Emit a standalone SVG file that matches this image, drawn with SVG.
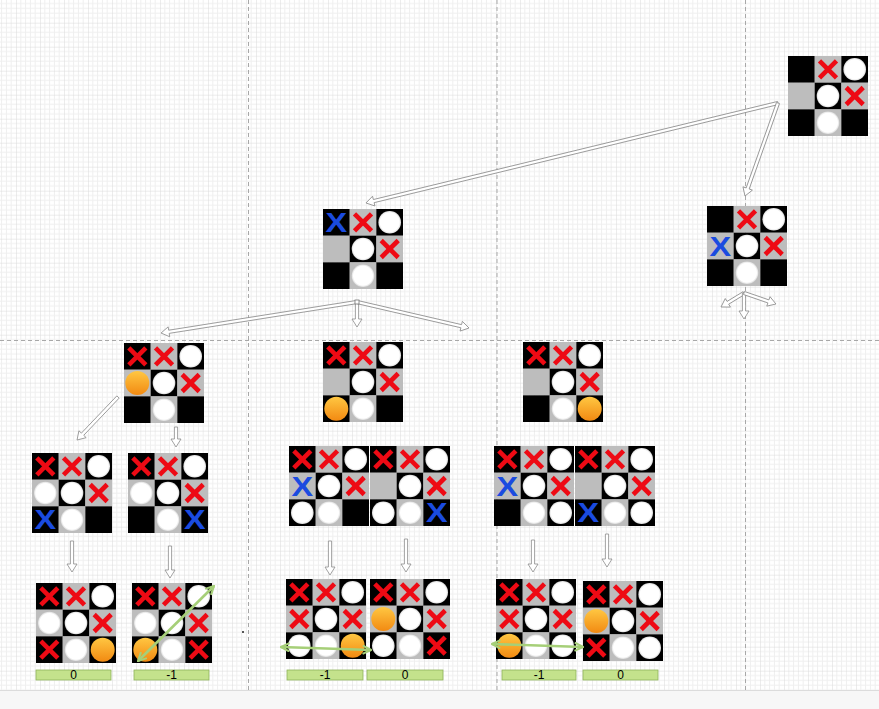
<svg xmlns="http://www.w3.org/2000/svg" xmlns:xlink="http://www.w3.org/1999/xlink" width="879" height="709" viewBox="0 0 879 709">
<style>
.ha{fill:#fff;stroke:#8c8c8c;stroke-width:0.8;stroke-linejoin:miter}
.bx{font-family:"Liberation Sans",Arial,sans-serif;font-weight:bold;font-size:27px;fill:#1a4be0;text-anchor:middle}
.gl{stroke:#a6cf78;stroke-width:2.6;fill:none;marker-start:url(#ga);marker-end:url(#ga)}
.lb{fill:#c4e28c;stroke:#8fb35a;stroke-width:0.8}
.lt{font-family:"Liberation Sans",Arial,sans-serif;font-size:12px;fill:#000;text-anchor:middle}
.pb{stroke:#a8a8a8;stroke-width:1;stroke-dasharray:4,3;fill:none}
</style>
<defs>
<pattern id="grid" patternUnits="userSpaceOnUse" x="16" y="22.7" width="24" height="24">
<path d="M4.8,0V24M9.6,0V24M14.4,0V24M19.2,0V24M0,4.8H24M0,9.6H24M0,14.4H24M0,19.2H24" stroke="#efefef" stroke-width="1" fill="none"/>
<path d="M0,0V24M0,0H24" stroke="#dadada" stroke-width="1" fill="none"/>
</pattern>
<radialGradient id="wg" cx="50%" cy="50%" r="50%">
<stop offset="0.84" stop-color="#ffffff"/>
<stop offset="1" stop-color="#dcdcdc"/>
</radialGradient>
<linearGradient id="og" x1="0" y1="0" x2="0" y2="1">
<stop offset="0" stop-color="#ffc742"/>
<stop offset="1" stop-color="#f28a12"/>
</linearGradient>
<marker id="ga" viewBox="0 0 10 10" refX="9" refY="5" markerWidth="4" markerHeight="4" orient="auto-start-reverse">
<path d="M1,1 L9,5 L1,9" fill="none" stroke="#a6cf78" stroke-width="2"/>
</marker>
<g id="bd">
<rect x="0" y="0" width="26.8" height="26.8" fill="#000"/>
<rect x="26.67" y="0" width="26.8" height="26.8" fill="#bdbdbd"/>
<rect x="53.33" y="0" width="26.67" height="26.8" fill="#000"/>
<rect x="0" y="26.67" width="26.8" height="26.8" fill="#bdbdbd"/>
<rect x="26.67" y="26.67" width="26.8" height="26.8" fill="#000"/>
<rect x="53.33" y="26.67" width="26.67" height="26.8" fill="#bdbdbd"/>
<rect x="0" y="53.33" width="26.8" height="26.67" fill="#000"/>
<rect x="26.67" y="53.33" width="26.8" height="26.67" fill="#bdbdbd"/>
<rect x="53.33" y="53.33" width="26.67" height="26.67" fill="#000"/>
</g>
<g id="rx" stroke="#ee0a14" stroke-width="4.6">
<line x1="-8.5" y1="-8.5" x2="8.5" y2="8.5"/>
<line x1="-8.5" y1="8.5" x2="8.5" y2="-8.5"/>
</g>
<circle id="wo" r="11.3" fill="url(#wg)"/>
<circle id="oo" r="12" fill="url(#og)"/>
</defs>

<rect x="0" y="0" width="879" height="709" fill="#ffffff"/>
<rect x="0" y="0" width="879" height="690" fill="url(#grid)"/>
<g id="pagebreaks">
<path class="pb" d="M248.5,0V690M497,0V690M745.5,0V690M0,340.5H879"/>
</g>
<rect x="0" y="690" width="879" height="19" fill="#f7f7f7"/>
<line x1="0" y1="690.5" x2="879" y2="690.5" stroke="#dcdcdc"/>

<g id="connectors">
<path class="ha" transform="translate(778,103) rotate(166.36)" d="M0,-1.6H416V-5L424,0L416,5V1.6H0Z"/>
<path class="ha" transform="translate(778,103) rotate(109.54)" d="M0,-1.6H90.7V-5L98.7,0L90.7,5V1.6H0Z"/>
<path class="ha" transform="translate(744,293) rotate(148.7)" d="M0,-1.6H18.9V-5L26.9,0L18.9,5V1.6H0Z"/>
<path class="ha" transform="translate(744,293) rotate(90)" d="M0,-1.6H18V-5L26,0L18,5V1.6H0Z"/>
<path class="ha" transform="translate(744,293) rotate(19)" d="M0,-1.6H25.8V-5L33.8,0L25.8,5V1.6H0Z"/>
<path class="ha" transform="translate(357,302) rotate(171)" d="M0,-1.6H190.4V-5L198.4,0L190.4,5V1.6H0Z"/>
<path class="ha" transform="translate(357,302) rotate(90)" d="M0,-1.6H17V-5L25,0L17,5V1.6H0Z"/>
<path class="ha" transform="translate(357,302) rotate(13.07)" d="M0,-1.6H107V-5L115,0L107,5V1.6H0Z"/>
<rect x="355" y="300" width="4" height="4" fill="#fff" stroke="#777" stroke-width="0.8"/>
<path class="ha" transform="translate(118,397) rotate(133.6)" d="M0,-1.6H51.4V-5L59.4,0L51.4,5V1.6H0Z"/>
<path class="ha" transform="translate(176,427) rotate(90)" d="M0,-1.6H12V-5L20,0L12,5V1.6H0Z"/>
<path class="ha" transform="translate(72,541) rotate(90)" d="M0,-1.6H23V-5L31,0L23,5V1.6H0Z"/>
<path class="ha" transform="translate(170,546) rotate(90)" d="M0,-1.6H24V-5L32,0L24,5V1.6H0Z"/>
<path class="ha" transform="translate(330,541) rotate(90)" d="M0,-1.6H26V-5L34,0L26,5V1.6H0Z"/>
<path class="ha" transform="translate(406,539) rotate(90)" d="M0,-1.6H25V-5L33,0L25,5V1.6H0Z"/>
<path class="ha" transform="translate(533,540) rotate(90)" d="M0,-1.6H24V-5L32,0L24,5V1.6H0Z"/>
<path class="ha" transform="translate(607,534) rotate(90)" d="M0,-1.6H25V-5L33,0L25,5V1.6H0Z"/>
</g>

<g id="root">
<use href="#bd" x="788" y="56"/>
<use href="#rx" x="828" y="69.3"/><use href="#wo" x="854.7" y="69.3"/>
<use href="#wo" x="828" y="96"/><use href="#rx" x="854.7" y="96"/>
<use href="#wo" x="828" y="122.7"/>
</g>

<g id="boardA">
<use href="#bd" x="323" y="209"/>
<text class="bx" transform="translate(336.3,222.3) scale(1.2,1)" x="0" y="9.7">X</text>
<use href="#rx" x="363" y="222.3"/><use href="#wo" x="389.7" y="222.3"/>
<use href="#wo" x="363" y="249"/><use href="#rx" x="389.7" y="249"/>
<use href="#wo" x="363" y="275.7"/>
</g>

<g id="boardB">
<use href="#bd" x="707" y="206"/>
<use href="#rx" x="747" y="219.3"/><use href="#wo" x="773.7" y="219.3"/>
<text class="bx" transform="translate(720.3,246) scale(1.2,1)" x="0" y="9.7">X</text>
<use href="#wo" x="747" y="246"/><use href="#rx" x="773.7" y="246"/>
<use href="#wo" x="747" y="272.7"/>
</g>

<g id="boardC">
<use href="#bd" x="124" y="343"/>
<use href="#rx" x="137.3" y="356.3"/><use href="#rx" x="164" y="356.3"/><use href="#wo" x="190.7" y="356.3"/>
<use href="#oo" x="137.3" y="383"/><use href="#wo" x="164" y="383"/><use href="#rx" x="190.7" y="383"/>
<use href="#wo" x="164" y="409.7"/>
</g>

<g id="boardD">
<use href="#bd" x="323" y="342"/>
<use href="#rx" x="336.3" y="355.3"/><use href="#rx" x="363" y="355.3"/><use href="#wo" x="389.7" y="355.3"/>
<use href="#wo" x="363" y="382"/><use href="#rx" x="389.7" y="382"/>
<use href="#oo" x="336.3" y="408.7"/><use href="#wo" x="363" y="408.7"/>
</g>

<g id="boardE">
<use href="#bd" x="523" y="342"/>
<use href="#rx" x="536.3" y="355.3"/><use href="#rx" x="563" y="355.3"/><use href="#wo" x="589.7" y="355.3"/>
<use href="#wo" x="563" y="382"/><use href="#rx" x="589.7" y="382"/>
<use href="#wo" x="563" y="408.7"/><use href="#oo" x="589.7" y="408.7"/>
</g>

<g id="boardF">
<use href="#bd" x="32" y="453"/>
<use href="#rx" x="45.3" y="466.3"/><use href="#rx" x="72" y="466.3"/><use href="#wo" x="98.7" y="466.3"/>
<use href="#wo" x="45.3" y="493"/><use href="#wo" x="72" y="493"/><use href="#rx" x="98.7" y="493"/>
<text class="bx" transform="translate(45.3,519.7) scale(1.2,1)" x="0" y="9.7">X</text>
<use href="#wo" x="72" y="519.7"/>
</g>

<g id="boardG">
<use href="#bd" x="128" y="453"/>
<use href="#rx" x="141.3" y="466.3"/><use href="#rx" x="168" y="466.3"/><use href="#wo" x="194.7" y="466.3"/>
<use href="#wo" x="141.3" y="493"/><use href="#wo" x="168" y="493"/><use href="#rx" x="194.7" y="493"/>
<use href="#wo" x="168" y="519.7"/>
<text class="bx" transform="translate(194.7,519.7) scale(1.2,1)" x="0" y="9.7">X</text>
</g>

<g id="boardH">
<use href="#bd" x="289" y="446"/>
<use href="#rx" x="302.3" y="459.3"/><use href="#rx" x="329" y="459.3"/><use href="#wo" x="355.7" y="459.3"/>
<text class="bx" transform="translate(302.3,486) scale(1.2,1)" x="0" y="9.7">X</text>
<use href="#wo" x="329" y="486"/><use href="#rx" x="355.7" y="486"/>
<use href="#wo" x="302.3" y="512.7"/><use href="#wo" x="329" y="512.7"/>
</g>

<g id="boardI">
<use href="#bd" x="370" y="446"/>
<use href="#rx" x="383.3" y="459.3"/><use href="#rx" x="410" y="459.3"/><use href="#wo" x="436.7" y="459.3"/>
<use href="#wo" x="410" y="486"/><use href="#rx" x="436.7" y="486"/>
<use href="#wo" x="383.3" y="512.7"/><use href="#wo" x="410" y="512.7"/>
<text class="bx" transform="translate(436.7,512.7) scale(1.2,1)" x="0" y="9.7">X</text>
</g>

<g id="boardJ">
<use href="#bd" x="494" y="446"/>
<use href="#rx" x="507.3" y="459.3"/><use href="#rx" x="534" y="459.3"/><use href="#wo" x="560.7" y="459.3"/>
<text class="bx" transform="translate(507.3,486) scale(1.2,1)" x="0" y="9.7">X</text>
<use href="#wo" x="534" y="486"/><use href="#rx" x="560.7" y="486"/>
<use href="#wo" x="534" y="512.7"/><use href="#wo" x="560.7" y="512.7"/>
</g>

<g id="boardK">
<use href="#bd" x="575" y="446"/>
<use href="#rx" x="588.3" y="459.3"/><use href="#rx" x="615" y="459.3"/><use href="#wo" x="641.7" y="459.3"/>
<use href="#wo" x="615" y="486"/><use href="#rx" x="641.7" y="486"/>
<text class="bx" transform="translate(588.3,512.7) scale(1.2,1)" x="0" y="9.7">X</text>
<use href="#wo" x="615" y="512.7"/><use href="#wo" x="641.7" y="512.7"/>
</g>

<g id="boardL">
<use href="#bd" x="36" y="583"/>
<use href="#rx" x="49.3" y="596.3"/><use href="#rx" x="76" y="596.3"/><use href="#wo" x="102.7" y="596.3"/>
<use href="#wo" x="49.3" y="623"/><use href="#wo" x="76" y="623"/><use href="#rx" x="102.7" y="623"/>
<use href="#rx" x="49.3" y="649.7"/><use href="#wo" x="76" y="649.7"/><use href="#oo" x="102.7" y="649.7"/>
</g>

<g id="boardM">
<use href="#bd" x="132" y="583"/>
<use href="#rx" x="145.3" y="596.3"/><use href="#rx" x="172" y="596.3"/><use href="#wo" x="198.7" y="596.3"/>
<use href="#wo" x="145.3" y="623"/><use href="#wo" x="172" y="623"/><use href="#rx" x="198.7" y="623"/>
<use href="#oo" x="145.3" y="649.7"/><use href="#wo" x="172" y="649.7"/><use href="#rx" x="198.7" y="649.7"/>
</g>

<g id="boardN">
<use href="#bd" x="286" y="579"/>
<use href="#rx" x="299.3" y="592.3"/><use href="#rx" x="326" y="592.3"/><use href="#wo" x="352.7" y="592.3"/>
<use href="#rx" x="299.3" y="619"/><use href="#wo" x="326" y="619"/><use href="#rx" x="352.7" y="619"/>
<use href="#wo" x="299.3" y="645.7"/><use href="#wo" x="326" y="645.7"/><use href="#oo" x="352.7" y="645.7"/>
</g>

<g id="boardO">
<use href="#bd" x="370" y="579"/>
<use href="#rx" x="383.3" y="592.3"/><use href="#rx" x="410" y="592.3"/><use href="#wo" x="436.7" y="592.3"/>
<use href="#oo" x="383.3" y="619"/><use href="#wo" x="410" y="619"/><use href="#rx" x="436.7" y="619"/>
<use href="#wo" x="383.3" y="645.7"/><use href="#wo" x="410" y="645.7"/><use href="#rx" x="436.7" y="645.7"/>
</g>

<g id="boardP">
<use href="#bd" x="496" y="579"/>
<use href="#rx" x="509.3" y="592.3"/><use href="#rx" x="536" y="592.3"/><use href="#wo" x="562.7" y="592.3"/>
<use href="#rx" x="509.3" y="619"/><use href="#wo" x="536" y="619"/><use href="#rx" x="562.7" y="619"/>
<use href="#oo" x="509.3" y="645.7"/><use href="#wo" x="536" y="645.7"/><use href="#wo" x="562.7" y="645.7"/>
</g>

<g id="boardQ">
<use href="#bd" x="583" y="581"/>
<use href="#rx" x="596.3" y="594.3"/><use href="#rx" x="623" y="594.3"/><use href="#wo" x="649.7" y="594.3"/>
<use href="#oo" x="596.3" y="621"/><use href="#wo" x="623" y="621"/><use href="#rx" x="649.7" y="621"/>
<use href="#rx" x="596.3" y="647.7"/><use href="#wo" x="623" y="647.7"/><use href="#wo" x="649.7" y="647.7"/>
</g>

<g id="winlines">
<line class="gl" x1="138" y1="661" x2="214" y2="586"/>
<line class="gl" x1="281" y1="647" x2="371" y2="650"/>
<line class="gl" x1="492" y1="644" x2="583" y2="647"/>
</g>

<g id="scores">
<rect class="lb" x="36" y="670" width="75" height="10"/><text class="lt" x="73.5" y="679.3">0</text>
<rect class="lb" x="134" y="670" width="75" height="10"/><text class="lt" x="171.5" y="679.3">-1</text>
<rect class="lb" x="287" y="670" width="76" height="10"/><text class="lt" x="325" y="679.3">-1</text>
<rect class="lb" x="367" y="670" width="76" height="10"/><text class="lt" x="405" y="679.3">0</text>
<rect class="lb" x="502" y="670" width="74" height="10"/><text class="lt" x="539" y="679.3">-1</text>
<rect class="lb" x="583" y="670" width="75" height="10"/><text class="lt" x="620.5" y="679.3">0</text>
</g>
<circle cx="243" cy="632" r="1" fill="#222"/>
</svg>
